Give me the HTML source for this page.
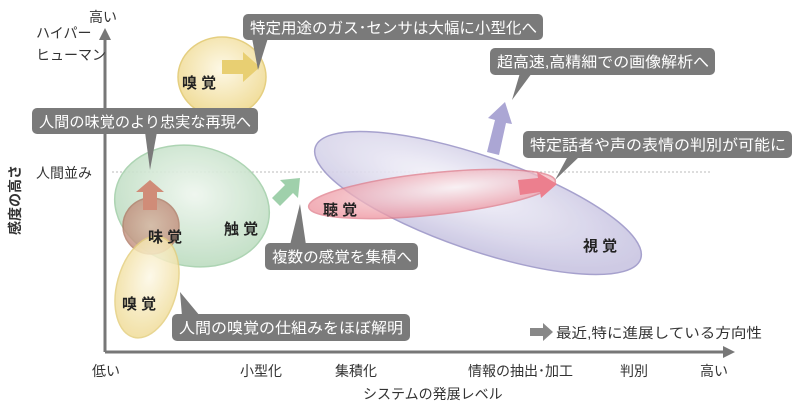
<!DOCTYPE html>
<html><head><meta charset="utf-8"><style>
body{margin:0;background:#fff}
svg{display:block}
text{font-family:"Liberation Sans","Noto Sans CJK JP",sans-serif}
</style></head><body>
<svg width="800" height="411" viewBox="0 0 800 411">
<defs>
<radialGradient id="gy" cx="50%" cy="40%" r="60%"><stop offset="0" stop-color="#fdf8e6"/><stop offset="1" stop-color="#f0dc98"/></radialGradient>
<radialGradient id="gg" cx="50%" cy="40%" r="60%"><stop offset="0" stop-color="#eef6ee"/><stop offset="1" stop-color="#bcdcc0"/></radialGradient>
<radialGradient id="gr" cx="60%" cy="40%" r="60%"><stop offset="0" stop-color="#faf0f2"/><stop offset="1" stop-color="#ee95a0"/></radialGradient>
<radialGradient id="gv" cx="40%" cy="40%" r="60%"><stop offset="0" stop-color="#f6f5fb"/><stop offset="1" stop-color="#c9c5e2"/></radialGradient>
<radialGradient id="gt" cx="50%" cy="50%" r="55%"><stop offset="0" stop-color="#d6b4a0"/><stop offset="1" stop-color="#c08a78"/></radialGradient>
</defs>
<line x1="105" y1="352" x2="105" y2="38" stroke="#777" stroke-width="3"/>
<polygon points="99,40 111,40 105,28" fill="#777"/>
<line x1="105" y1="352" x2="725" y2="352" stroke="#777" stroke-width="3"/>
<polygon points="723,346 723,358 735,352" fill="#777"/>
<line x1="112" y1="172" x2="710" y2="172" stroke="#bbb" stroke-width="1" stroke-dasharray="2,2"/>
<ellipse cx="478" cy="203" rx="172" ry="47" transform="rotate(19 478 203)" fill="url(#gv)" stroke="#9d97c8" stroke-width="1.5" opacity="0.9"/>
<ellipse cx="192" cy="206" rx="78" ry="60" transform="rotate(12 192 206)" fill="url(#gg)" stroke="#a5d0ab" stroke-width="1.5" opacity="0.9"/>
<ellipse cx="432" cy="194" rx="124" ry="21" transform="rotate(-6 432 194)" fill="url(#gr)" stroke="#e07c8a" stroke-width="1.5" opacity="0.75"/>
<ellipse cx="151" cy="226" rx="28" ry="28" fill="url(#gt)" stroke="#b07a66" stroke-width="1.5" opacity="0.8"/>
<ellipse cx="147" cy="287" rx="30" ry="52" transform="rotate(15 147 287)" fill="url(#gy)" stroke="#e5cf80" stroke-width="1.5" opacity="0.85"/>
<ellipse cx="222" cy="77" rx="44" ry="40" fill="url(#gy)" stroke="#e5cf80" stroke-width="1.5"/>
<polygon points="222,60 243,60 243,52 260,67 243,82 243,74 222,74" fill="#e8cf72"/>
<polygon points="143,210 143,192 136,192 150,180 164,192 157,192 157,210" fill="#d08c78"/>
<polygon points="272,198 285,185 280,180 300,178 298,198 293,193 280,206" fill="#9fd0ab"/>
<polygon points="518,180 538,178 537,172 557,184 541,198 540,192 520,195" fill="#ec7f8e"/>
<polygon points="487,152 495,120 488,118 505,102 512,124 506,123 499,155" fill="#aba6d4"/>
<polygon points="530,328 543,328 543,323 553,332 543,341 543,336 530,336" fill="#888"/>
<g fill="#7a7a7a">
<rect x="243" y="14" width="300" height="26" rx="5"/><polygon points="252,38 268,38 258,70"/>
<rect x="490" y="48" width="225" height="27" rx="5"/><polygon points="520,73 532,73 512,100"/>
<rect x="32" y="108" width="226" height="26" rx="5"/><polygon points="145,132 157,132 150,170"/>
<rect x="523" y="131" width="269" height="27" rx="5"/><polygon points="568,156 580,156 555,180"/>
<rect x="265" y="243" width="153" height="27" rx="5"/><polygon points="290,245 306,245 300,204"/>
<rect x="172" y="314" width="238" height="27" rx="5"/><polygon points="182,316 200,316 180,292"/>
</g>
<g fill="#fff" font-size="15">
<text x="250" y="33" textLength="287" lengthAdjust="spacingAndGlyphs">特定用途のガス･センサは大幅に小型化へ</text>
<text x="497" y="67" textLength="212" lengthAdjust="spacingAndGlyphs">超高速,高精細での画像解析へ</text>
<text x="39" y="127" textLength="212" lengthAdjust="spacingAndGlyphs">人間の味覚のより忠実な再現へ</text>
<text x="530" y="150" textLength="256" lengthAdjust="spacingAndGlyphs">特定話者や声の表情の判別が可能に</text>
<text x="272" y="262" textLength="140" lengthAdjust="spacingAndGlyphs">複数の感覚を集積へ</text>
<text x="179" y="333" textLength="224" lengthAdjust="spacingAndGlyphs">人間の嗅覚の仕組みをほぼ解明</text>
</g>
<g fill="#222" font-size="15" font-weight="bold">
<text x="182" y="88">嗅 覚</text>
<text x="148" y="242">味 覚</text>
<text x="224" y="234">触 覚</text>
<text x="323" y="215">聴 覚</text>
<text x="583" y="251">視 覚</text>
<text x="122" y="309">嗅 覚</text>
</g>
<g fill="#333" font-size="14">
<text x="556" y="338" textLength="206" lengthAdjust="spacingAndGlyphs">最近,特に進展している方向性</text>
<text x="89" y="22">高い</text>
<text x="36" y="38">ハイパー</text>
<text x="36" y="60">ヒューマン</text>
<text x="36" y="178">人間並み</text>
<text x="92" y="376">低い</text>
<text x="240" y="376">小型化</text>
<text x="335" y="376">集積化</text>
<text x="468" y="376">情報の抽出･加工</text>
<text x="620" y="376">判別</text>
<text x="700" y="376">高い</text>
<text x="363" y="399">システムの発展レベル</text>
<text transform="translate(20,235) rotate(-90)" font-weight="bold">感度の高さ</text>
</g>
</svg>
</body></html>
